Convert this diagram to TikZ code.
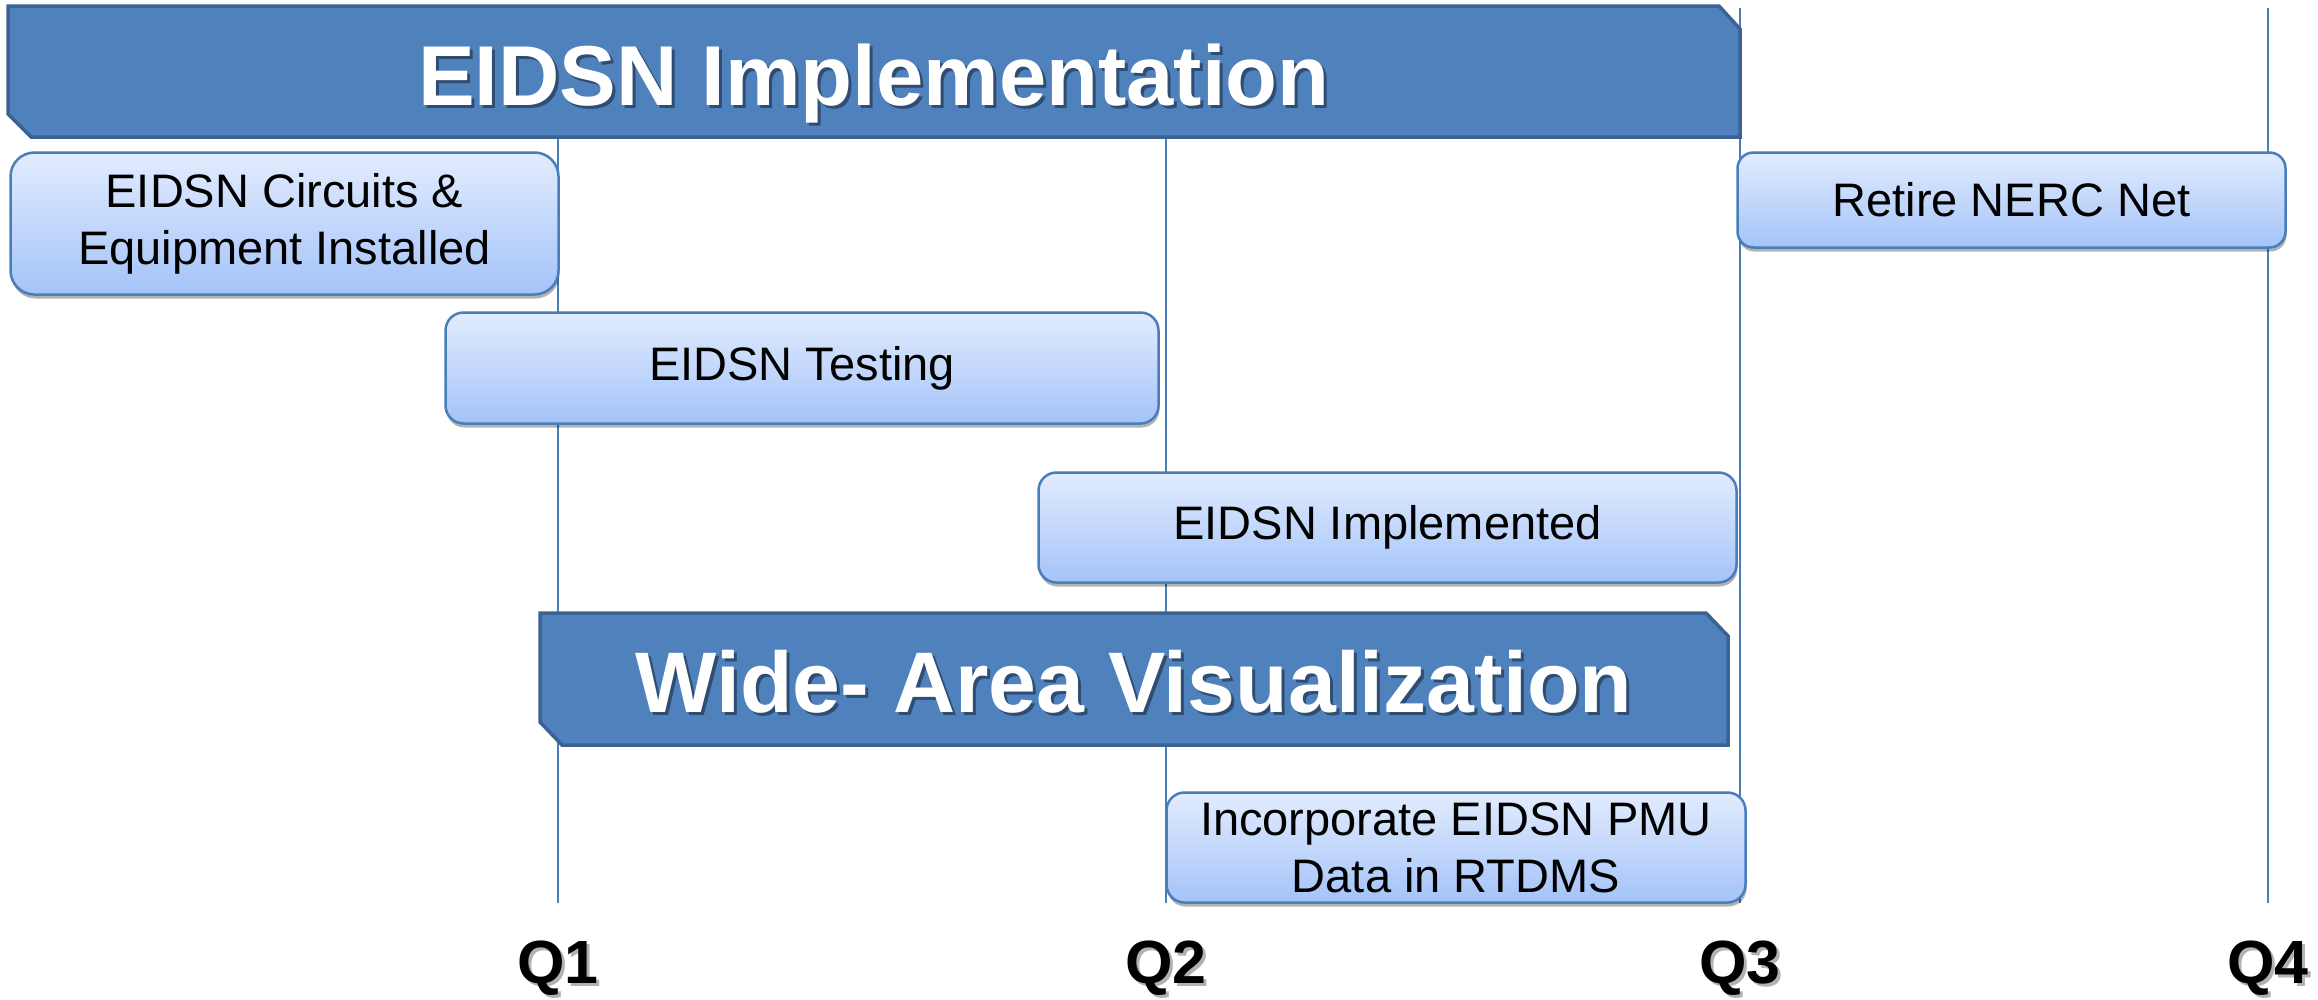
\documentclass[tikz,border=0pt]{standalone}
\usepackage{fontspec}
\setmainfont{Liberation Sans}
\usetikzlibrary{shadows}

\definecolor{barblue}{HTML}{4F81BD}
\definecolor{bardark}{HTML}{3B6291}
\definecolor{barshade}{HTML}{2F4C72}
\definecolor{lineblue}{HTML}{4A7EBB}
\definecolor{boxtop}{HTML}{E2ECFE}
\definecolor{boxbot}{HTML}{A4C3F9}

\newcommand{\shadowed}[2]{\makebox[0pt][l]{\kern3pt\raisebox{-3pt}{\textcolor{#1}{#2}}}#2}

\begin{document}
\begin{tikzpicture}[
    x=1pt, y=-1pt,
    qline/.style    = {lineblue, line width=1.8pt},
    bar/.style      = {fill=barblue, draw=bardark, line width=3.5pt, line join=miter},
    bartitle/.style = {anchor=base, text=white, inner sep=0pt, font=\bfseries\fontsize{85}{100}\selectfont},
    task/.style     = {draw=lineblue, line width=2.5pt, rounded corners=18pt,
                       top color=boxtop, bottom color=boxbot, align=center, inner sep=0pt,
                       font=\fontsize{47}{57}\selectfont,
                       drop shadow={shadow xshift=1pt, shadow yshift=-4pt, opacity=0.3, fill=black}},
    quarter/.style  = {anchor=base, inner sep=0pt, font=\bfseries\fontsize{61}{70}\selectfont}
  ]

    \path[use as bounding box, fill=white] (0,0) rectangle (2318,999);

    %% ---- quarter lines and labels ----
    \foreach \qx/\qn in {558/Q1, 1166/Q2, 1740/Q3, 2268/Q4} {
      \coordinate (\qn top) at (\qx,8);
      \coordinate (\qn bot) at (\qx,903);
      \draw[qline] (\qn top) -- (\qn bot);
      \node[quarter] (\qn) at (\qx,983) {\shadowed{gray!60}{\qn}};
    }

    %% ---- EIDSN Implementation bar ----
    \draw[bar] (8,6) -- (1719,6) -- (1740,29) -- (1740,137) -- (31,137) -- (8,114) -- cycle;
    \node[bartitle] (implemtitle) at (874,105) {\shadowed{barshade}{EIDSN Implementation}};

    %% ---- Wide-Area Visualization bar ----
    \draw[bar] (540,613) -- (1706,613) -- (1728,636) -- (1728,745) -- (562,745) -- (540,722) -- cycle;
    \node[bartitle, font=\bfseries\fontsize{86}{100}\selectfont] (widetitle) at (1134,712)
      {\shadowed{barshade}{Wide- Area Visualization}};

    %% ---- tasks ----
    \node[task, rounded corners=24pt, minimum width=548, minimum height=142] (circuits)
      at (284.5,223.5) {EIDSN Circuits \&\\Equipment Installed};
    \node[task, minimum width=713, minimum height=111] (testing)
      at (802,368) {EIDSN Testing};
    \node[task, minimum width=698, minimum height=110] (implemented)
      at (1387.5,527.5) {EIDSN Implemented};
    \node[task, rounded corners=16pt, minimum width=548, minimum height=95] (retire)
      at (2011.5,200) {Retire NERC Net};
    \node[task, minimum width=579, minimum height=110] (incorporate)
      at (1456,847.5) {Incorporate EIDSN PMU\\Data in RTDMS};
  \end{tikzpicture}
\end{document}
